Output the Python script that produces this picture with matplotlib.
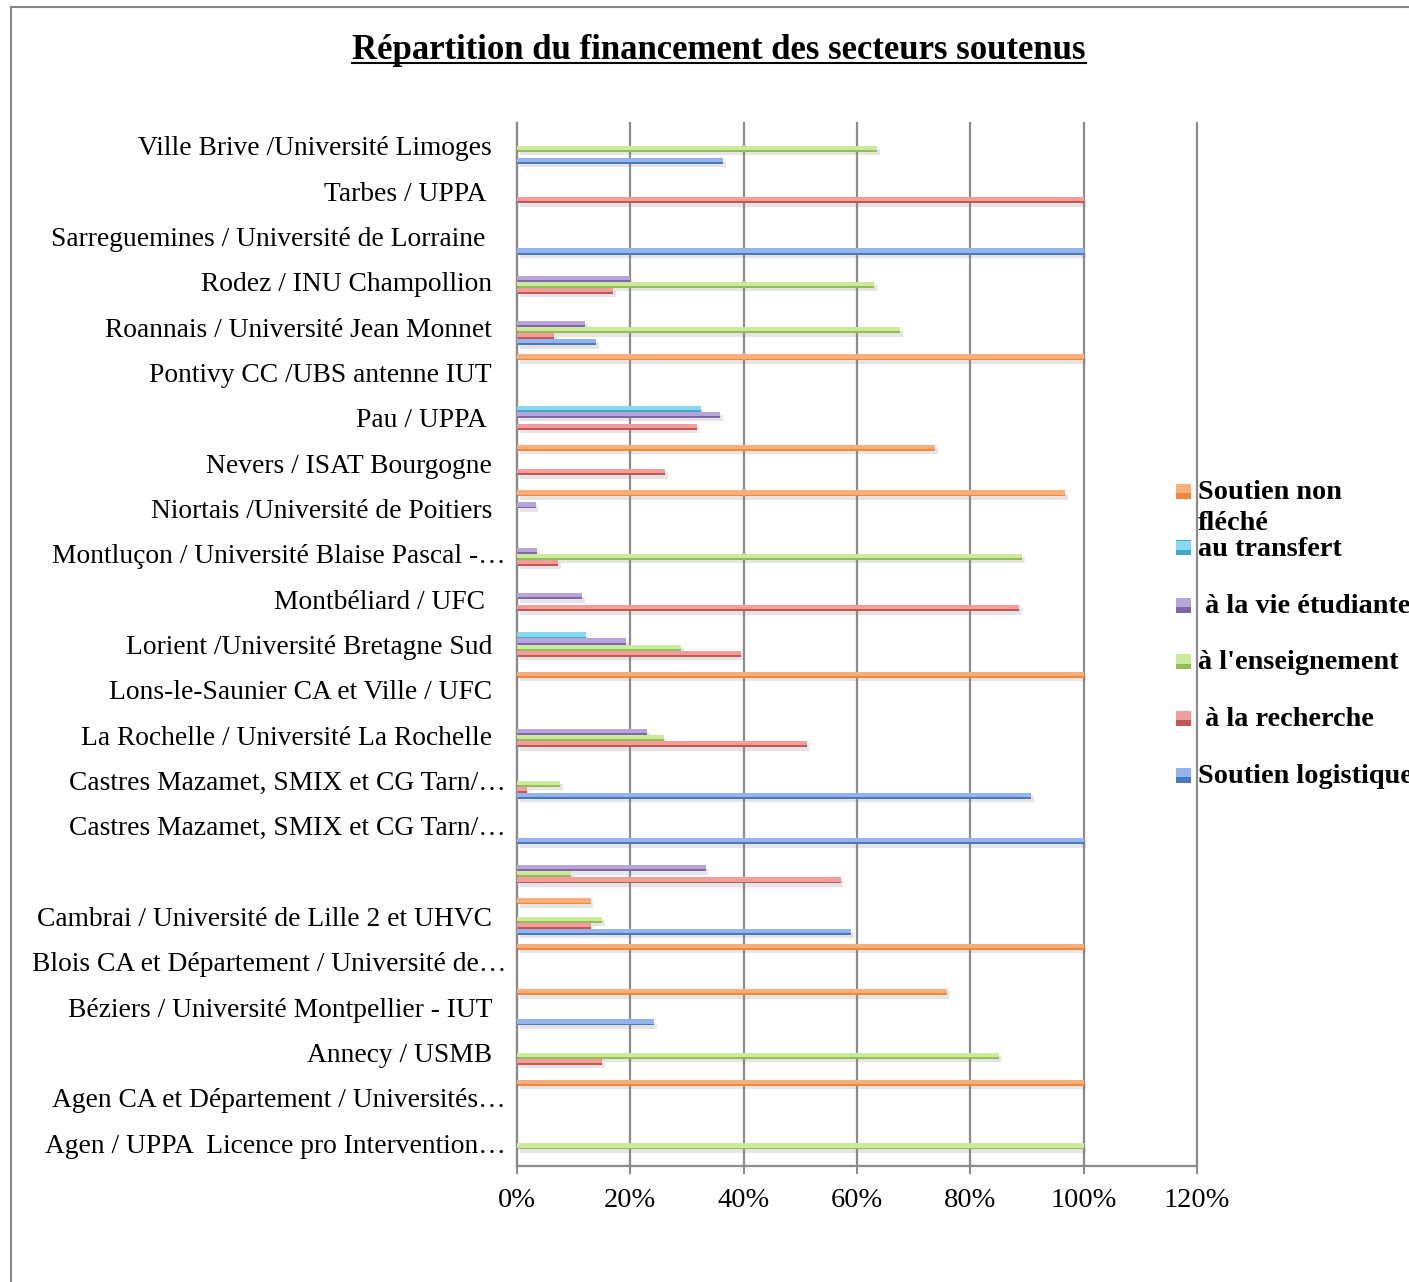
import matplotlib
matplotlib.use("Agg")
import numpy as np
import matplotlib.pyplot as plt
import matplotlib.patheffects as pe
from matplotlib.patches import Rectangle
from matplotlib.lines import Line2D
from matplotlib.transforms import ScaledTranslation

plt.rcParams["font.family"] = ["Liberation Serif", "DejaVu Serif"]

# sites, top to bottom as in the chart
SITES = [
    "Ville Brive /Université Limoges",
    "Tarbes / UPPA ",
    "Sarreguemines / Université de Lorraine ",
    "Rodez / INU Champollion",
    "Roannais / Université Jean Monnet",
    "Pontivy CC /UBS antenne IUT",
    "Pau / UPPA ",
    "Nevers / ISAT Bourgogne",
    "Niortais /Université de Poitiers",
    "Montluçon / Université Blaise Pascal -…",
    "Montbéliard / UFC ",
    "Lorient /Université Bretagne Sud",
    "Lons-le-Saunier CA et Ville / UFC",
    "La Rochelle / Université La Rochelle",
    "Castres Mazamet, SMIX et CG Tarn/…",
    "Castres Mazamet, SMIX et CG Tarn/…",
    "",
    "Cambrai / Université de Lille 2 et UHVC",
    "Blois CA et Département / Université de…",
    "Béziers / Université Montpellier - IUT",
    "Annecy / USMB",
    "Agen CA et Département / Universités…",
    "Agen / UPPA  Licence pro Intervention…",
]

# shares in %, same order as SITES
LOGISTIQUE = [36.4, 0, 100, 0, 13.9, 0, 0, 0, 0, 0, 0, 0, 0, 0, 90.7, 100, 0, 59, 0, 24.2, 0, 0, 0]
RECHERCHE = [0, 100, 0, 17, 6.5, 0, 31.7, 26.2, 0, 7.3, 88.5, 39.6, 0, 51.1, 1.7, 0, 57.1, 13, 0, 0, 15, 0, 0]
ENSEIGNEMENT = [63.6, 0, 0, 63, 67.6, 0, 0, 0, 0, 89.2, 0, 29.0, 0, 26.0, 7.6, 0, 9.6, 15, 0, 0, 85, 0, 100]
VIE_ETUDIANTE = [0, 0, 0, 20, 12, 0, 35.9, 0, 3.3, 3.5, 11.5, 19.3, 0, 22.9, 0, 0, 33.3, 0, 0, 0, 0, 0, 0]
TRANSFERT = [0, 0, 0, 0, 0, 0, 32.4, 0, 0, 0, 0, 12.1, 0, 0, 0, 0, 0, 0, 0, 0, 0, 0, 0]
NON_FLECHE = [0, 0, 0, 0, 0, 100, 0, 73.8, 96.7, 0, 0, 0, 100, 0, 0, 0, 0, 13, 100, 75.8, 0, 100, 0]

SERIES = ["Soutien logistique", " à la recherche", "à l'enseignement",
          " à la vie étudiante", "au transfert", "Soutien non\nfléché"]
VALUES = [LOGISTIQUE, RECHERCHE, ENSEIGNEMENT, VIE_ETUDIANTE, TRANSFERT, NON_FLECHE]
DARK = ["#4a77bd", "#c95452", "#94bc58", "#7f66a9", "#41a8c6", "#f1883b"]
LIGHT = ["#93b4ee", "#f29c9b", "#cdea9c", "#b7a4d8", "#86d9f0", "#fbae78"]

W, H = 1409, 1282
GREY = "#8c8c8c"


def fx(px):
    return px / W


def fy(py):
    return 1 - py / H


fig = plt.figure(figsize=(W / 100, H / 100), dpi=100)
ax = fig.add_axes([fx(517), fy(1166), fx(1197 - 517), (1166 - 123) / H])

n = len(SITES)
ypos = np.arange(n)[::-1]
bar_h = 1 / 7.5
shadow = [pe.SimplePatchShadow(offset=(2, -2.5), shadow_rgbFace="0.5", alpha=0.2), pe.Normal()]
for k, (vals, dark, light) in enumerate(zip(VALUES, DARK, LIGHT)):
    y = ypos + (k - 2.5) * bar_h
    bars = ax.barh(y, vals, height=bar_h, color=dark, linewidth=0, zorder=2)
    for b in bars:
        b.set_path_effects(shadow)
    ax.barh(y + 0.15 * bar_h, vals, height=0.7 * bar_h, color=light, linewidth=0, zorder=3)

ax.set_xlim(0, 120)
ax.set_ylim(-0.5, n - 0.5)
ax.set_xticks(range(0, 121, 20))
ax.set_xticklabels([f"{v}%" for v in range(0, 121, 20)], fontsize=20.5)
ax.set_yticks(ypos)
ax.set_yticklabels(SITES, fontsize=19.8)
ax.tick_params(axis="y", length=0, pad=18)
ax.tick_params(axis="x", length=6, width=1.44, color=GREY, pad=10)
ax.set_axisbelow(True)
ax.xaxis.grid(True, color=GREY, linewidth=1.6)
for gl in ax.get_xgridlines():
    gl.set_clip_on(False)
for side in ["top", "right"]:
    ax.spines[side].set_visible(False)
for side in ["left", "bottom"]:
    ax.spines[side].set_color(GREY)
    ax.spines[side].set_linewidth(1.6)

# truncated labels overflow a bit to the right, as in the original
for lab in ax.get_yticklabels():
    if lab.get_text().endswith("…"):
        lab.set_transform(lab.get_transform() + ScaledTranslation(0.14, 0, fig.dpi_scale_trans))

# title, underlined
title = fig.text(fx(719), fy(59), "Répartition du financement des secteurs soutenus",
                 ha="center", va="baseline", fontsize=25, fontweight="bold")
fig.canvas.draw()
bb = title.get_window_extent(fig.canvas.get_renderer())
fig.add_artist(Line2D([bb.x0 / W, bb.x1 / W], [fy(63), fy(63)], color="black", linewidth=1.5))

# legend, drawn by hand to keep the original row spacing
baselines = [499, 556, 613, 669.5, 726, 783]
for i, k in enumerate(range(len(SERIES) - 1, -1, -1)):
    b = baselines[i]
    fig.add_artist(Rectangle((fx(1176), fy(b - 0.5)), fx(15), 15 / H, color=DARK[k], linewidth=0))
    fig.add_artist(Rectangle((fx(1176), fy(b - 6)), fx(15), 9.5 / H, color=LIGHT[k], linewidth=0))
    for j, line in enumerate(SERIES[k].split("\n")):
        fig.text(fx(1198), fy(b + 31 * j), line, ha="left", va="baseline",
                 fontsize=20.3, fontweight="bold")

# outer chart frame (left and top edges visible)
fig.add_artist(Line2D([fx(11), fx(11)], [fy(7), 0], color="#888888", linewidth=1.5))
fig.add_artist(Line2D([fx(11), 1], [fy(7), fy(7)], color="#888888", linewidth=1.5))

fig.savefig("out.png", dpi=100)
